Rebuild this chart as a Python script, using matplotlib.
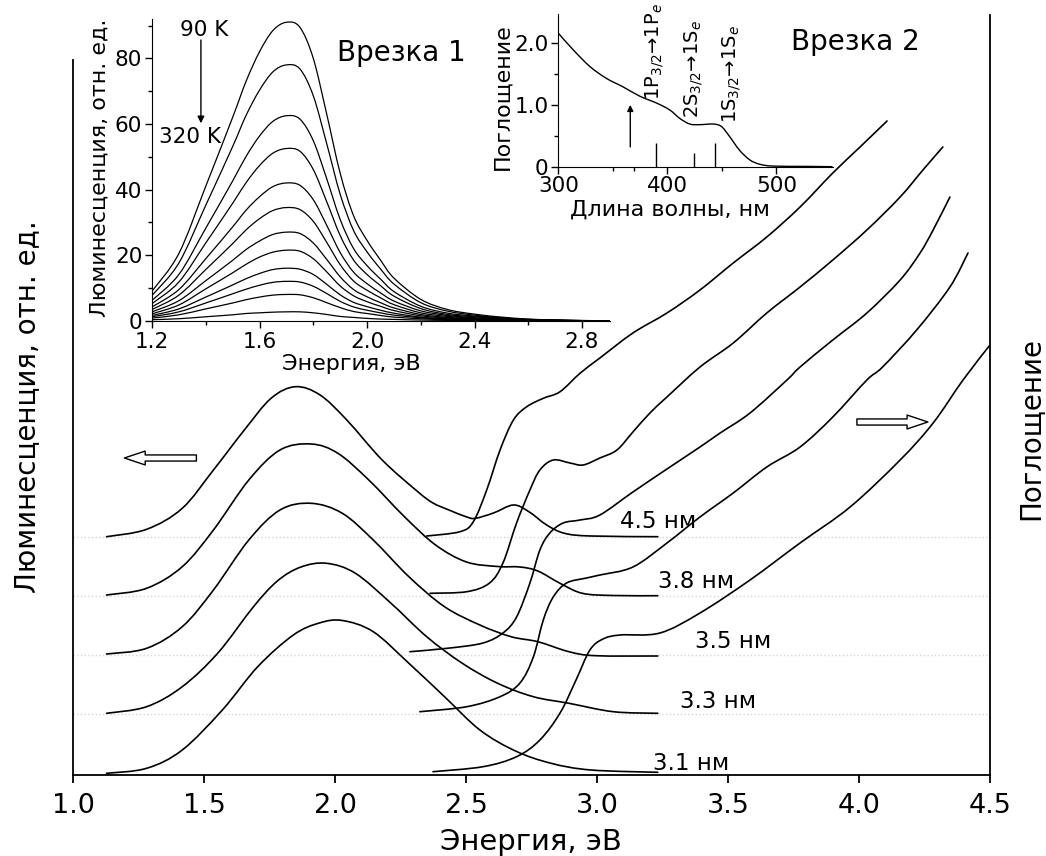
import matplotlib
matplotlib.use("Agg")
import matplotlib.pyplot as plt
from matplotlib.ticker import MultipleLocator
from matplotlib.path import Path
from matplotlib.patches import PathPatch

plt.rcParams['font.family'] = ['DejaVu Sans']
plt.rcParams['mathtext.fontset'] = 'dejavusans'

W, H = 1046, 856


def fxy(px, py):
    # pixel position in the picture -> figure fraction
    return px / W, 1 - py / H


def smooth_line(ax, x, y, lw=1.2, t=1 / 6):
    # draw a smooth curve through the read points (cubic bezier segments)
    verts = [(x[0], y[0])]
    codes = [Path.MOVETO]
    n = len(x)
    for i in range(n - 1):
        x0, y0 = (x[i - 1], y[i - 1]) if i > 0 else (x[i], y[i])
        x3, y3 = (x[i + 2], y[i + 2]) if i + 2 < n else (x[i + 1], y[i + 1])
        c1 = (x[i] + (x[i + 1] - x0) * t, y[i] + (y[i + 1] - y0) * t)
        c2 = (x[i + 1] - (x3 - x[i]) * t, y[i + 1] - (y3 - y[i]) * t)
        verts += [c1, c2, (x[i + 1], y[i + 1])]
        codes += [Path.CURVE4] * 3
    ax.add_patch(PathPatch(Path(verts, codes), fill=False, edgecolor="black",
                           linewidth=lw, capstyle="round", joinstyle="round"))


#------------------------------
# main panel: luminescence (left) and absorption (right), stacked by size

lum_e_45 = [1.128, 1.281, 1.417, 1.536, 1.654, 1.756, 1.849, 1.943, 2.045, 2.180, 2.316, 2.374, 2.435,
            2.503, 2.536, 2.605, 2.681, 2.740, 2.808, 2.876, 2.977, 3.232]
lum_v_45 = [2.383, 2.457, 2.667, 3.05, 3.45, 3.767, 3.883, 3.80, 3.55, 3.15, 2.833, 2.72, 2.65,
            2.58, 2.567, 2.62, 2.70, 2.633, 2.50, 2.417, 2.39, 2.383]

lum_e_38 = [1.128, 1.281, 1.417, 1.536, 1.671, 1.790, 1.909, 2.011, 2.129, 2.265, 2.384, 2.502, 2.621,
            2.706, 2.774, 2.859, 2.944, 3.062, 3.232]
lum_v_38 = [1.80, 1.867, 2.083, 2.45, 2.95, 3.25, 3.31, 3.217, 2.95, 2.583, 2.30, 2.13, 2.085,
            2.08, 2.04, 1.917, 1.817, 1.795, 1.793]

lum_e_35 = [1.128, 1.281, 1.417, 1.536, 1.671, 1.790, 1.909, 2.028, 2.146, 2.282, 2.418, 2.553, 2.672,
            2.774, 2.893, 2.994, 3.232]
lum_v_35 = [1.21, 1.267, 1.483, 1.85, 2.35, 2.65, 2.717, 2.617, 2.35, 1.983, 1.683, 1.50, 1.383,
            1.333, 1.233, 1.193, 1.19]

lum_e_33 = [1.128, 1.281, 1.417, 1.553, 1.688, 1.780, 1.870, 1.968, 2.078, 2.214, 2.350, 2.486, 2.621,
            2.757, 2.893, 3.062, 3.232]
lum_v_33 = [0.617, 0.683, 0.883, 1.22, 1.68, 1.94, 2.08, 2.117, 2.017, 1.717, 1.383, 1.117, 0.917,
            0.783, 0.717, 0.633, 0.617]

lum_e_31 = [1.128, 1.281, 1.417, 1.570, 1.705, 1.841, 1.940, 2.028, 2.146, 2.282, 2.418, 2.553, 2.689,
            2.825, 2.977, 3.232]
lum_v_31 = [0.017, 0.067, 0.25, 0.65, 1.083, 1.40, 1.52, 1.545, 1.433, 1.117, 0.783, 0.45, 0.24,
            0.117, 0.05, 0.027]

abs_e_45 = [2.350, 2.477, 2.528, 2.579, 2.630, 2.681, 2.732, 2.795, 2.859, 2.935, 3.011, 3.137, 3.267,
            3.393, 3.520, 3.648, 3.775, 3.900, 4.004, 4.107]
abs_v_45 = [2.39, 2.433, 2.533, 2.85, 3.25, 3.55, 3.683, 3.767, 3.833, 4.017, 4.17, 4.42, 4.62,
            4.85, 5.12, 5.38, 5.68, 6.02, 6.28, 6.54]

abs_e_38 = [2.363, 2.503, 2.590, 2.641, 2.693, 2.744, 2.782, 2.833, 2.897, 2.947, 3.011, 3.076, 3.137,
            3.202, 3.267, 3.393, 3.520, 3.648, 3.775, 3.900, 4.030, 4.157, 4.244, 4.320]
abs_v_38 = [1.817, 1.833, 1.92, 2.12, 2.52, 2.85, 3.05, 3.15, 3.12, 3.10, 3.17, 3.25, 3.43,
            3.62, 3.78, 4.08, 4.32, 4.62, 4.88, 5.15, 5.45, 5.78, 6.05, 6.28]

abs_e_35 = [2.286, 2.439, 2.565, 2.641, 2.693, 2.744, 2.782, 2.820, 2.871, 2.935, 3.011, 3.137, 3.267,
            3.393, 3.470, 3.584, 3.725, 3.775, 3.900, 4.030, 4.157, 4.233, 4.283, 4.347]
abs_v_35 = [1.233, 1.27, 1.32, 1.42, 1.58, 1.92, 2.25, 2.42, 2.52, 2.55, 2.60, 2.83, 3.06,
            3.28, 3.42, 3.62, 3.95, 4.08, 4.35, 4.62, 4.95, 5.22, 5.45, 5.78]

abs_e_33 = [2.324, 2.503, 2.630, 2.706, 2.757, 2.795, 2.833, 2.884, 2.960, 3.011, 3.137, 3.267, 3.393,
            3.520, 3.648, 3.775, 3.900, 4.030, 4.090, 4.220, 4.347, 4.416]
abs_v_33 = [0.633, 0.683, 0.783, 0.92, 1.18, 1.55, 1.78, 1.92, 1.97, 2.00, 2.08, 2.32, 2.58,
            2.82, 3.08, 3.28, 3.58, 3.95, 4.08, 4.45, 4.88, 5.22]

abs_e_31 = [2.374, 2.565, 2.693, 2.782, 2.859, 2.920, 2.973, 3.023, 3.088, 3.240, 3.393, 3.584, 3.775,
            3.966, 4.157, 4.283, 4.397, 4.500]
abs_v_31 = [0.033, 0.083, 0.183, 0.35, 0.62, 0.95, 1.25, 1.36, 1.40, 1.42, 1.62, 1.95, 2.32,
            2.68, 3.15, 3.52, 3.95, 4.30]

baselines = [2.38, 1.79, 1.20, 0.61]          # faint dotted guide lines
size_labels = ["4.5 нм", "3.8 нм", "3.5 нм", "3.3 нм", "3.1 нм"]
size_label_e = [3.088, 3.233, 3.374, 3.317, 3.214]
size_label_v = [2.53, 1.93, 1.33, 0.73, 0.12]

main_ticks = [1.0, 1.5, 2.0, 2.5, 3.0, 3.5, 4.0, 4.5]

#------------------------------
# inset 1: luminescence, 90 K ... 320 K
pl_energy = [1.20, 1.30, 1.40, 1.50, 1.55, 1.60, 1.65, 1.70, 1.75, 1.80, 1.85, 1.90, 1.95, 2.00,
             2.05, 2.10, 2.20, 2.30, 2.40, 2.50, 2.60, 2.70, 2.80, 2.90]
pl_curves = [
    [9.0, 20.5, 41.0, 62.0, 73.0, 82.0, 88.5, 91.0, 89.5, 80.0, 63.0, 45.0, 32.0, 24.5, 18.5, 13.0, 6.5, 3.4, 2.0, 1.1, 0.5, 0.2, 0.05, 0],
    [7.7, 17.6, 35.2, 53.1, 62.6, 70.3, 75.9, 78.0, 76.8, 68.6, 54.0, 38.6, 27.5, 21.0, 15.8, 11.2, 5.5, 2.9, 1.7, 0.9, 0.4, 0.2, 0.04, 0],
    [6.2, 14.1, 28.2, 42.6, 50.1, 56.3, 60.8, 62.5, 61.5, 54.9, 43.3, 30.9, 22.0, 16.8, 12.7, 8.9, 4.4, 2.3, 1.4, 0.8, 0.3, 0.1, 0.03, 0],
    [5.2, 11.8, 23.7, 35.8, 42.1, 47.3, 51.1, 52.5, 51.7, 46.1, 36.3, 26.0, 18.5, 14.1, 10.7, 7.5, 3.7, 1.9, 1.2, 0.6, 0.3, 0.1, 0.03, 0],
    [4.2, 9.5, 18.9, 28.6, 33.7, 37.8, 40.9, 42.0, 41.3, 36.9, 29.1, 20.8, 14.8, 11.3, 8.5, 6.0, 3.0, 1.6, 0.9, 0.5, 0.2, 0.1, 0.02, 0],
    [3.4, 7.8, 15.6, 23.5, 27.7, 31.1, 33.6, 34.5, 33.9, 30.3, 23.9, 17.1, 12.1, 9.3, 7.0, 4.9, 2.4, 1.3, 0.8, 0.4, 0.2, 0.1, 0.02, 0],
    [2.7, 6.1, 12.2, 18.4, 21.7, 24.3, 26.3, 27.0, 26.6, 23.7, 18.7, 13.4, 9.5, 7.3, 5.5, 3.9, 1.9, 1.0, 0.6, 0.3, 0.1, 0.06, 0.01, 0],
    [2.1, 4.8, 9.7, 14.6, 17.2, 19.4, 20.9, 21.5, 21.2, 18.9, 14.9, 10.6, 7.6, 5.8, 4.4, 3.1, 1.5, 0.8, 0.5, 0.3, 0.1, 0.05, 0.01, 0],
    [1.6, 3.6, 7.2, 10.9, 12.8, 14.4, 15.6, 16.0, 15.7, 14.1, 11.1, 7.9, 5.6, 4.3, 3.2, 2.3, 1.1, 0.6, 0.4, 0.2, 0.1, 0.04, 0.01, 0],
    [1.2, 2.7, 5.4, 8.2, 9.6, 10.8, 11.7, 12.0, 11.8, 10.5, 8.3, 5.9, 4.2, 3.2, 2.4, 1.7, 0.9, 0.4, 0.3, 0.1, 0.07, 0.03, 0.01, 0],
    [0.8, 1.8, 3.6, 5.4, 6.4, 7.2, 7.8, 8.0, 7.9, 7.0, 5.5, 4.0, 2.8, 2.2, 1.6, 1.1, 0.6, 0.3, 0.2, 0.1, 0.04, 0.02, 0, 0],
    [0.3, 0.6, 1.2, 1.8, 2.2, 2.4, 2.6, 2.7, 2.7, 2.4, 1.9, 1.3, 1.0, 0.7, 0.5, 0.4, 0.2, 0.1, 0.06, 0.03, 0.01, 0, 0, 0],
]

#------------------------------
# inset 2: absorption spectrum vs wavelength
abs_wl = [300, 313.7, 329, 344, 359.5, 374.8, 390, 402, 411.5, 420.6, 429.8, 442, 449.6, 457,
          466, 475.6, 484.7, 497, 527, 551]
abs_od = [2.16, 1.89, 1.62, 1.43, 1.29, 1.14, 1.03, 0.92, 0.78, 0.69, 0.68, 0.69, 0.65, 0.49,
          0.27, 0.11, 0.04, 0.01, 0.005, 0.0]

trans_wl = [389.5, 424, 444]
trans_h = [0.38, 0.22, 0.38]
trans_labels = ["1P$_{3/2}$→1P$_e$", "2S$_{3/2}$→1S$_e$", "1S$_{3/2}$→1S$_e$"]
trans_label_wl = [388, 424, 459]
trans_label_od = [1.08, 0.78, 0.70]

#------------------------------
fig = plt.figure(figsize=(W / 100, H / 100), dpi=100)

ax = fig.add_axes([73 / W, 1 - 775 / H, 917 / W, 760 / H])

for b in baselines:
    ax.axhline(b, color="#d6d6d6", linestyle=":", linewidth=1, zorder=0)

for e, v in [(lum_e_45, lum_v_45), (lum_e_38, lum_v_38), (lum_e_35, lum_v_35),
             (lum_e_33, lum_v_33), (lum_e_31, lum_v_31)]:
    smooth_line(ax, e, v, lw=1.2)

for e, v in [(abs_e_45, abs_v_45), (abs_e_38, abs_v_38), (abs_e_35, abs_v_35),
             (abs_e_33, abs_v_33), (abs_e_31, abs_v_31)]:
    smooth_line(ax, e, v, lw=1.2)

for lab, e, v in zip(size_labels, size_label_e, size_label_v):
    ax.text(e, v, lab, fontsize=16.5, ha="left", va="center")

# hollow arrows pointing to the relevant axis
hollow = dict(arrowstyle="simple,head_length=0.75,head_width=0.5,tail_width=0.22",
              fc="white", ec="black", lw=1.0, mutation_scale=20, shrinkA=0, shrinkB=0)
ax.annotate("", xy=(1.196, 3.17), xytext=(1.471, 3.17), arrowprops=hollow)
ax.annotate("", xy=(4.263, 3.53), xytext=(3.992, 3.53), arrowprops=hollow)

ax.set_xlim(1.0, 4.5)
ax.set_ylim(0, 7.6)
ax.spines["top"].set_visible(False)
ax.spines["left"].set_bounds(0, 7.15)
for s in ["left", "right", "bottom"]:
    ax.spines[s].set_linewidth(1.3)
ax.set_yticks([])
ax.set_xticks(main_ticks)
ax.set_xticklabels(["%.1f" % t for t in main_ticks])
ax.tick_params(axis="x", direction="out", length=6, width=1.3, labelsize=19.5, pad=7)

fig.text(*fxy(531, 850), "Энергия, эВ", fontsize=21, ha="center", va="baseline")
fig.text(*fxy(27, 407), "Люминесценция, отн. ед.", fontsize=20, rotation=90,
         ha="center", va="center")
fig.text(*fxy(1030, 428), "Поглощение", fontsize=20, rotation=90, ha="center", va="center")

#------------------------------
# Inset 1
ax1 = fig.add_axes([152 / W, 1 - 320.7 / H, 458 / W, 301.7 / H])
ax1.set_facecolor("none")
for y in pl_curves:
    smooth_line(ax1, pl_energy, y, lw=0.9)
ax1.set_xlim(1.2, 2.904)
ax1.set_ylim(0, 92)
ax1.spines["top"].set_visible(False)
ax1.spines["right"].set_visible(False)
ax1.set_xticks([1.2, 1.6, 2.0, 2.4, 2.8])
ax1.set_xticklabels(["1.2", "1.6", "2.0", "2.4", "2.8"])
ax1.xaxis.set_minor_locator(MultipleLocator(0.2))
ax1.set_yticks([0, 20, 40, 60, 80])
ax1.yaxis.set_minor_locator(MultipleLocator(10))
ax1.tick_params(which="major", direction="out", length=5, width=1, labelsize=15.5, pad=2)
ax1.tick_params(axis="x", which="major", pad=3)
ax1.tick_params(which="minor", direction="out", length=3, width=1)

ax1.annotate("", xy=(1.382, 60.2), xytext=(1.382, 85.6),
             arrowprops=dict(arrowstyle="-|>", color="black", lw=1, mutation_scale=10,
                             shrinkA=0, shrinkB=0))
ax1.text(1.396, 88.6, "90 K", fontsize=15.5, ha="center", va="center")
ax1.text(1.343, 56.1, "320 K", fontsize=15.5, ha="center", va="center")
ax1.text(2.127, 81.6, "Врезка 1", fontsize=20, ha="center", va="center")

fig.text(*fxy(351, 364), "Энергия, эВ", fontsize=16, ha="center", va="center")
fig.text(*fxy(100, 168), "Люминесценция, отн. ед.", fontsize=16, rotation=90,
         ha="center", va="center")

#------------------------------
# Inset 2
ax2 = fig.add_axes([558.3 / W, 1 - 166.7 / H, 274.4 / W, 152.7 / H])
ax2.set_facecolor("none")
smooth_line(ax2, abs_wl, abs_od, lw=1)
ax2.vlines(trans_wl, 0, trans_h, color="black", linewidth=1)
ax2.annotate("", xy=(366, 1.0), xytext=(366, 0.32),
             arrowprops=dict(arrowstyle="-|>", color="black", lw=1, mutation_scale=9,
                             shrinkA=0, shrinkB=0))
for lab, x, y in zip(trans_labels, trans_label_wl, trans_label_od):
    ax2.text(x, y, lab, fontsize=14, rotation=90, rotation_mode="anchor",
             ha="left", va="center")
ax2.set_xlim(300, 551.6)
ax2.set_ylim(0, 2.47)
ax2.spines["top"].set_visible(False)
ax2.spines["right"].set_visible(False)
ax2.set_xticks([300, 400, 500])
ax2.set_xticks([350, 369, 450], minor=True)
ax2.set_yticks([0, 1, 2])
ax2.set_yticklabels(["0", "1.0", "2.0"])
ax2.set_yticks([0.5, 1.5], minor=True)
ax2.tick_params(which="major", direction="out", length=5, width=1, labelsize=15.5, pad=2)
ax2.tick_params(which="minor", direction="out", length=3, width=1)

fig.text(*fxy(855, 42), "Врезка 2", fontsize=20, ha="center", va="center")
fig.text(*fxy(670, 210), "Длина волны, нм", fontsize=16, ha="center", va="center")
fig.text(*fxy(502, 97), "Поглощение", fontsize=16, rotation=90, ha="center", va="center")

fig.savefig("out.png", dpi=100)
